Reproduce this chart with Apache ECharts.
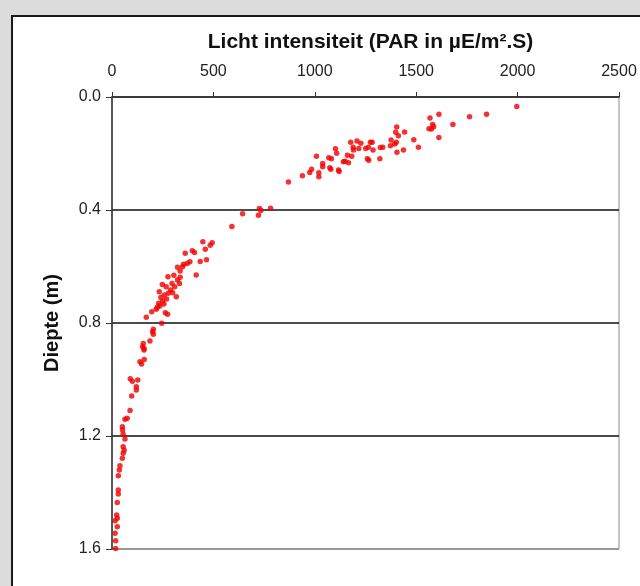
<!DOCTYPE html>
<html>
<head>
<meta charset="utf-8">
<script src="https://cdn.jsdelivr.net/npm/echarts@6/dist/echarts.min.js"></script>
<style>
html,body{margin:0;padding:0;background:#dcdcdc;overflow:hidden;}
#frame{position:absolute;left:11px;top:15px;width:660px;height:620px;background:#fff;border:2px solid #1a1a1a;}
#chart{position:absolute;left:0;top:0;width:640px;height:586px;}
</style>
</head>
<body>
<div id="frame"></div>
<div id="chart"></div>
<script>
// Light intensity (PAR) values
const parValues = [
 1996,1612,1568,1847,1763,1681,1581,1586,1563,1575,1612,1404,1399,1412,1443,1376,1402,1394,1373,1405,
 1437,1488,1511,1323,1335,1321,1283,1274,1287,1264,1251,1259,1266,1227,1208,1177,1189,1217,1191,1182,
 1161,1141,1166,1149,1102,1108,1069,1082,1117,1120,1074,1079,1039,1039,1008,984,975,1020,1020,939,
 870,644,591,727,734,722,782,
 448,494,484,460,466,435,396,407,361,384,371,353,348,323,336,415,305,336,276,323,
 296,333,248,267,309,289,233,299,277,258,317,241,269,250,230,256,236,223,218,196,
 263,274,169,245,204,200,204,187,154,151,158,
 158,159,138,146,90,100,127,120,120,97,89,64,75,51,52,55,64,55,60,55,
 51,39,36,31,31,31,26,23,26,15,26,15,18,18
];
// Depth (m) values
const depthValues = [
 0.034,0.061,0.074,0.061,0.070,0.097,0.097,0.105,0.112,0.113,0.143,0.106,0.125,0.137,0.124,0.152,0.160,0.166,0.173,0.196,
 0.188,0.151,0.178,0.179,0.178,0.219,0.160,0.160,0.188,0.178,0.182,0.219,0.224,0.164,0.156,0.160,0.178,0.182,0.188,0.210,
 0.206,0.229,0.233,0.227,0.183,0.199,0.215,0.219,0.258,0.264,0.250,0.256,0.235,0.247,0.210,0.256,0.267,0.268,0.282,0.279,
 0.301,0.413,0.458,0.395,0.402,0.419,0.394,
 0.512,0.516,0.525,0.539,0.576,0.582,0.544,0.550,0.553,0.583,0.589,0.592,0.601,0.603,0.616,0.630,0.631,0.638,0.636,0.648,
 0.660,0.660,0.664,0.672,0.672,0.683,0.689,0.693,0.695,0.701,0.707,0.710,0.715,0.722,0.730,0.733,0.740,0.744,0.751,0.760,
 0.764,0.769,0.780,0.801,0.822,0.831,0.840,0.864,0.873,0.884,0.890,
 0.896,0.929,0.937,0.945,0.997,1.006,1.002,1.026,1.037,1.058,1.110,1.141,1.137,1.167,1.179,1.194,1.211,1.238,1.250,1.261,
 1.279,1.305,1.320,1.341,1.391,1.405,1.435,1.480,1.491,1.500,1.521,1.544,1.571,1.598
];
const xTicks = [0, 500, 1000, 1500, 2000, 2500];
const yTicks = [0.0, 0.4, 0.8, 1.2, 1.6];

const points = parValues.map((v, i) => [v, depthValues[i]]);
const font = '"Liberation Sans", Arial, sans-serif';

const chart = echarts.init(document.getElementById('chart'), null, {renderer: 'canvas'});
chart.setOption({
  backgroundColor: 'transparent',
  animation: false,
  grid: {left: 112, right: 21, top: 97, bottom: 37, show: true, backgroundColor: '#fff', borderColor: '#8a8a8a', borderWidth: 1},
  xAxis: {
    type: 'value', position: 'top',
    min: xTicks[0], max: xTicks[xTicks.length - 1], interval: 500,
    name: 'Licht intensiteit (PAR in µE/m².S)',
    nameLocation: 'middle', nameGap: 44,
    nameTextStyle: {fontFamily: font, fontSize: 21, fontWeight: 'bold', color: '#111', padding: [0, 0, 0, 10]},
    axisLine: {show: true, lineStyle: {color: '#333', width: 1.5}},
    axisTick: {show: true, length: 5, lineStyle: {color: '#333'}},
    axisLabel: {fontFamily: font, fontSize: 16, color: '#222', margin: 17, formatter: v => String(v)},
    splitLine: {show: false}
  },
  yAxis: {
    type: 'value', inverse: true,
    min: yTicks[0], max: yTicks[yTicks.length - 1], interval: 0.4,
    name: 'Diepte (m)',
    nameLocation: 'middle', nameGap: 50,
    nameTextStyle: {fontFamily: font, fontSize: 20, fontWeight: 'bold', color: '#111'},
    axisLine: {show: true, lineStyle: {color: '#333', width: 1.5}},
    axisTick: {show: true, length: 6, lineStyle: {color: '#333'}},
    axisLabel: {fontFamily: font, fontSize: 16, color: '#222', margin: 11, formatter: v => v.toFixed(1)},
    splitLine: {show: true, lineStyle: {color: ['#333', '#111', '#111', '#111', '#8a8a8a'], width: 1.5}}
  },
  series: [{
    type: 'scatter',
    data: points,
    symbol: 'circle',
    symbolSize: 5.5,
    itemStyle: {color: '#f00000'}
  }]
});
</script>
</body>
</html>
